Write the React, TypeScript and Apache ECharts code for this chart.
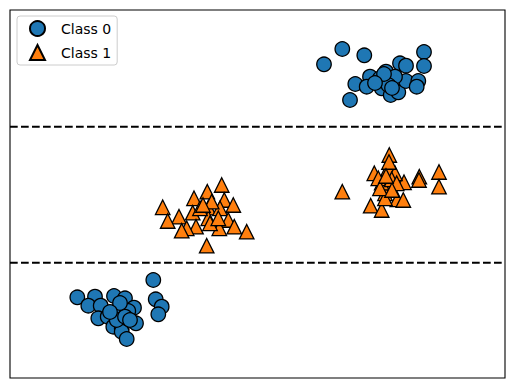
import React, { useEffect, useRef } from "react";
import * as echarts from "echarts";

// data coordinates: x in [0, 495], y in [0, 368]
const class0: [number, number][] = [
  [314, 313.7], [332.3, 329], [354.3, 322.7], [414, 326], [414, 312],
  [390, 314.7], [396, 312.3], [376, 306.3], [360, 301.3], [345.3, 294],
  [356.7, 291.3], [371.7, 289.7], [380.7, 283], [388.3, 285.7], [396, 297],
  [408.3, 297], [406.7, 291.3], [340, 278], [380, 300], [385, 301.3],
  [370, 299.7], [378.3, 293], [374, 304], [382, 290], [365, 295],
  [143.3, 98], [67.3, 80.7], [85, 81.3], [104, 82], [115, 79.7],
  [78.3, 72.3], [90.7, 72.3], [145.7, 78.7], [151.7, 71.3], [148.3, 63.7],
  [109.3, 69.7], [124, 70.3], [118.3, 67], [88.3, 59.7], [97.7, 61.3],
  [126, 54.7], [103.3, 51.3], [111.7, 49.7], [111.7, 46.3], [116.7, 39],
  [106.7, 58], [115, 61.3], [110, 75], [100, 66], [120, 58],
];

const class1: [number, number][] = [
  [211.7, 193], [197.3, 186.3], [184, 179.7], [152.7, 170.7], [214.3, 178],
  [223.3, 173], [198.3, 170.3], [210, 169.7], [182.7, 165.3], [169, 161.3],
  [157.7, 157], [198.3, 159.7], [218.3, 158], [186, 151.3], [176.7, 149.7],
  [171.7, 147.3], [209.3, 149.7], [224.3, 151.3], [236.7, 146.3], [196.7, 132.3],
  [190, 169.7], [201.7, 176.3], [200, 154.7], [208.3, 159.7], [193, 173],
  [379.3, 223], [378.3, 209.7], [364.3, 204.7], [409.3, 201.3], [429, 206],
  [429, 191.3], [332.3, 186.3], [394, 195.7], [380, 192], [375, 184.7],
  [387.3, 178.7], [393.3, 178], [360.7, 172.3], [371.7, 168], [385, 204.7],
  [371.7, 195.3], [368.3, 199.7], [381.7, 198.7], [409, 198], [375, 179.7],
  [386.7, 194.7], [370, 189.7], [379, 216], [382, 188], [376, 202],
];

const boundaries: number[] = [251.3, 115.3];
const labels: string[] = ["Class 0", "Class 1"];
const xRange: [number, number] = [0, 495];
const yRange: [number, number] = [0, 368];

export default function App() {
  const ref = useRef<HTMLDivElement>(null);
  useEffect(() => {
    document.body.style.margin = "0";
    if (!ref.current) return;
    const chart = echarts.init(ref.current, undefined, { renderer: "svg" });
    const lineSeries = boundaries.map((y) => ({
      type: "line",
      data: [[xRange[0], y], [xRange[1], y]],
      symbol: "none",
      silent: true,
      lineStyle: { color: "#000", width: 2, type: [7.7, 3.3] },
      z: 1,
    }));
    chart.setOption({
      animation: false,
      backgroundColor: "#fff",
      grid: {
        left: 10, top: 10, width: 495, height: 368,
        show: true, borderColor: "#000", borderWidth: 1.1, backgroundColor: "transparent",
      },
      xAxis: {
        type: "value", min: xRange[0], max: xRange[1],
        axisLine: { show: false }, axisTick: { show: false },
        axisLabel: { show: false }, splitLine: { show: false },
      },
      yAxis: {
        type: "value", min: yRange[0], max: yRange[1],
        axisLine: { show: false }, axisTick: { show: false },
        axisLabel: { show: false }, splitLine: { show: false },
      },
      legend: {
        left: 17, top: 16, orient: "vertical",
        data: labels,
        itemWidth: 15, itemHeight: 15, itemGap: 7,
        padding: [4, 6, 4, 12],
        backgroundColor: "rgba(255,255,255,0.8)",
        borderColor: "#cccccc", borderWidth: 1, borderRadius: 3,
        textStyle: {
          fontFamily: "DejaVu Sans", fontSize: 14, color: "#000",
          padding: [0, 0, 0, 11],
        },
      },
      series: [
        {
          name: labels[0], type: "scatter", data: class0,
          symbol: "circle", symbolSize: 14.5,
          itemStyle: { color: "#1f77b4", borderColor: "#000", borderWidth: 1.3, opacity: 1 },
          z: 3,
        },
        {
          name: labels[1], type: "scatter", data: class1,
          symbol: "triangle", symbolSize: 14.5,
          itemStyle: { color: "#ff7f0e", borderColor: "#000", borderWidth: 1.3, opacity: 1 },
          z: 3,
        },
        ...lineSeries,
      ],
    });
    return () => chart.dispose();
  }, []);
  return <div ref={ref} style={{ width: 515, height: 389 }} />;
}
